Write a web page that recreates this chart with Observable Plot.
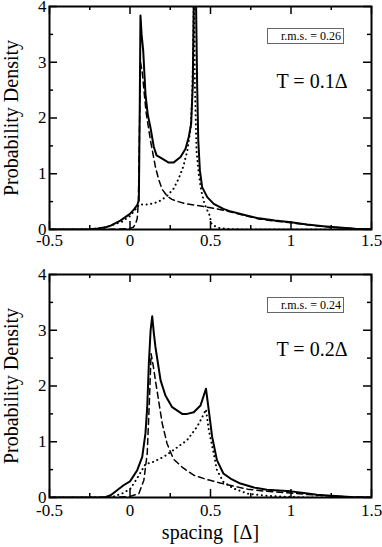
<!DOCTYPE html>
<html><head><meta charset="utf-8">
<script src="https://cdn.jsdelivr.net/npm/d3@7"></script>
<script src="https://cdn.jsdelivr.net/npm/@observablehq/plot@0.6"></script>
<style>
body{margin:0;background:#fff;}
#wrap{position:relative;width:382px;height:547px;}
#wrap svg{display:block;}
#wrap svg, #wrap svg text{font-family:"Liberation Serif","Times New Roman","DejaVu Serif",serif !important;}
svg text{white-space:pre;}
.rms{position:absolute;box-sizing:border-box;width:77px;height:16px;border:1.3px solid #666;font-family:"Liberation Serif","Times New Roman",serif;font-size:12px;text-align:right;padding-right:2px;line-height:14px;color:#000;}
</style></head><body><div id="wrap"></div>
<script>
// axis ticks
const xTicks = [-0.5, 0, 0.5, 1, 1.5];
const xMinor = [-0.25, 0.25, 0.75, 1.25];
const yTicks = [0, 1, 2, 3, 4];
const yMinor = [0.5, 1.5, 2.5, 3.5];

// Panel 1: T = 0.1Δ
const t1SolidX = [-0.5,-0.3,-0.25,-0.2,-0.15,-0.12,-0.06,0,0.025,0.045,0.055,0.06,0.065,0.072,0.082,0.096,0.11,0.127,0.148,0.165,0.2,0.24,0.27,0.314,0.345,0.365,0.38,0.39,0.396,0.403,0.41,0.417,0.424,0.434,0.448,0.48,0.52,0.58,0.62,0.7,0.8,0.9,1.0,1.1,1.2,1.3,1.4,1.5];
const t1SolidY = [0,0,0.005,0.02,0.04,0.07,0.16,0.28,0.36,0.44,0.52,2.0,3.84,3.5,3.21,2.43,2.07,1.83,1.48,1.33,1.27,1.2,1.2,1.3,1.45,1.66,1.9,2.61,4.1,5.0,4.1,2.61,1.6,1.06,0.76,0.58,0.46,0.37,0.33,0.27,0.2,0.16,0.13,0.09,0.06,0.035,0.015,0.005];
const t1DashX = [-0.5,-0.15,-0.05,0,0.02,0.035,0.045,0.052,0.058,0.065,0.075,0.09,0.1,0.127,0.158,0.18,0.2,0.23,0.26,0.3,0.35,0.44,0.54,0.62,0.7,0.8,0.9,1.0,1.1,1.2,1.3,1.4,1.5];
const t1DashY = [0,0,0.01,0.02,0.04,0.1,0.2,0.5,1.6,3.0,2.85,2.4,2.1,1.6,1.12,0.88,0.72,0.6,0.54,0.5,0.46,0.42,0.37,0.32,0.26,0.19,0.15,0.12,0.085,0.055,0.03,0.012,0.004];
const t1DotX = [-0.5,-0.25,-0.15,-0.05,0,0.04,0.055,0.08,0.11,0.15,0.19,0.23,0.27,0.3,0.33,0.355,0.376,0.386,0.392,0.398,0.403,0.413,0.427,0.442,0.463,0.49,0.498,0.502,0.52,0.55,0.6,0.7,1.5];
const t1DotY = [0,0,0.04,0.14,0.24,0.38,0.45,0.45,0.45,0.47,0.52,0.6,0.73,0.9,1.12,1.4,1.8,2.35,3.2,4.5,2.6,1.42,1.0,0.7,0.46,0.28,0.24,0.12,0.07,0.03,0.01,0,0];

// Panel 2: T = 0.2Δ
const t2SolidX = [-0.5,-0.2,-0.15,-0.12,-0.08,-0.04,0,0.045,0.076,0.096,0.107,0.117,0.128,0.138,0.148,0.158,0.19,0.22,0.262,0.324,0.355,0.396,0.438,0.472,0.49,0.51,0.54,0.58,0.624,0.686,0.77,0.85,1.0,1.08,1.16,1.25,1.37,1.5];
const t2SolidY = [0,0,0.01,0.04,0.13,0.22,0.29,0.49,0.73,1.15,1.62,2.4,3.0,3.25,2.95,2.7,2.1,1.83,1.62,1.5,1.5,1.53,1.65,1.95,1.55,1.09,0.67,0.43,0.34,0.25,0.18,0.14,0.11,0.08,0.05,0.03,0.01,0];
const t2DashX = [-0.5,-0.1,0,0.055,0.086,0.107,0.12,0.131,0.145,0.158,0.2,0.23,0.27,0.33,0.396,0.48,0.56,0.65,0.73,0.85,1.0,1.1,1.2,1.3,1.4,1.5];
const t2DashY = [0,0,0.02,0.07,0.31,0.79,1.7,2.58,2.35,2.1,1.33,0.97,0.69,0.53,0.4,0.32,0.26,0.2,0.15,0.11,0.08,0.055,0.035,0.02,0.008,0];
const t2DotX = [-0.5,-0.15,-0.1,-0.05,0,0.03,0.06,0.096,0.138,0.21,0.27,0.355,0.417,0.45,0.472,0.49,0.52,0.54,0.58,0.645,0.73,0.85,1.0,1.1,1.5];
const t2DotY = [0,0,0.02,0.07,0.15,0.28,0.42,0.6,0.63,0.73,0.85,1.03,1.27,1.45,1.58,1.2,0.79,0.49,0.28,0.16,0.07,0.03,0.01,0,0];

const W = 322, H = 223;
const pts = (xs, ys) => xs.map((x, i) => ({x, y: ys[i]}));

function panel({solid, dashed, dotted, label, height, marginTop, marginBottom, xLabel, xPad}) {
  return Plot.plot({
    width: 382, height, marginLeft: 49, marginRight: 11, marginTop, marginBottom,
    x: {domain: [-0.5, 1.5]},
    y: {domain: [0, 4]},
    style: {fontSize: "17px", background: "white", overflow: "visible", color: "black"},
    marks: [
      Plot.axisX(xTicks, {tickSize: 0, tickPadding: xPad, tickFormat: d => String(d), fontSize: 17, label: null}),
      Plot.axisX({ticks: [], tickSize: 0, label: xLabel, labelAnchor: "center", labelArrow: "none", labelOffset: 41, fontSize: 20}),
      Plot.axisY(yTicks, {tickSize: 0, tickPadding: 3, tickFormat: d => String(d), fontSize: 17, label: null}),
      Plot.axisY({ticks: [], tickSize: 0, label: "Probability Density", labelAnchor: "center", labelArrow: "none", labelOffset: 46, fontSize: 20}),
      Plot.tickX(xTicks, {x: d => d, insetTop: H - 8, stroke: "black", strokeWidth: 1.5}),
      Plot.tickX(xTicks, {x: d => d, insetBottom: H - 8, stroke: "black", strokeWidth: 1.5}),
      Plot.tickX(xMinor, {x: d => d, insetTop: H - 4, stroke: "black", strokeWidth: 1.5}),
      Plot.tickX(xMinor, {x: d => d, insetBottom: H - 4, stroke: "black", strokeWidth: 1.5}),
      Plot.tickY(yTicks, {y: d => d, insetRight: W - 8, stroke: "black", strokeWidth: 1.5}),
      Plot.tickY(yTicks, {y: d => d, insetLeft: W - 8, stroke: "black", strokeWidth: 1.5}),
      Plot.tickY(yMinor, {y: d => d, insetRight: W - 4, stroke: "black", strokeWidth: 1.5}),
      Plot.tickY(yMinor, {y: d => d, insetLeft: W - 4, stroke: "black", strokeWidth: 1.5}),
      Plot.line(solid, {x: "x", y: "y", stroke: "black", strokeWidth: 2, clip: true}),
      Plot.line(dashed, {x: "x", y: "y", stroke: "black", strokeWidth: 1.5, strokeDasharray: "6,4", clip: true}),
      Plot.line(dotted, {x: "x", y: "y", stroke: "black", strokeWidth: 2, strokeDasharray: "0.1,4.5", strokeLinecap: "round", clip: true}),
      Plot.text([label], {frameAnchor: "top-right", dx: -24, dy: 81, lineAnchor: "bottom", textAnchor: "end", fontSize: 20}),
      Plot.frame({stroke: "black", strokeWidth: 2})
    ]
  });
}

const wrap = document.getElementById("wrap");
wrap.append(panel({
  solid: pts(t1SolidX, t1SolidY), dashed: pts(t1DashX, t1DashY), dotted: pts(t1DotX, t1DotY),
  label: "T = 0.1Δ", height: 250, marginTop: 6, marginBottom: 21, xLabel: null, xPad: 4
}));
wrap.append(panel({
  solid: pts(t2SolidX, t2SolidY), dashed: pts(t2DashX, t2DashY), dotted: pts(t2DotX, t2DotY),
  label: "T = 0.2Δ", height: 297, marginTop: 24, marginBottom: 50, xLabel: "spacing  [Δ]", xPad: 6
}));

function rmsBox(text, top) {
  const d = document.createElement("div");
  d.className = "rms";
  d.style.left = "267px";
  d.style.top = top + "px";
  d.textContent = text;
  wrap.append(d);
}
rmsBox("r.m.s. = 0.26", 28);
rmsBox("r.m.s. = 0.24", 297);
</script>
</body></html>
